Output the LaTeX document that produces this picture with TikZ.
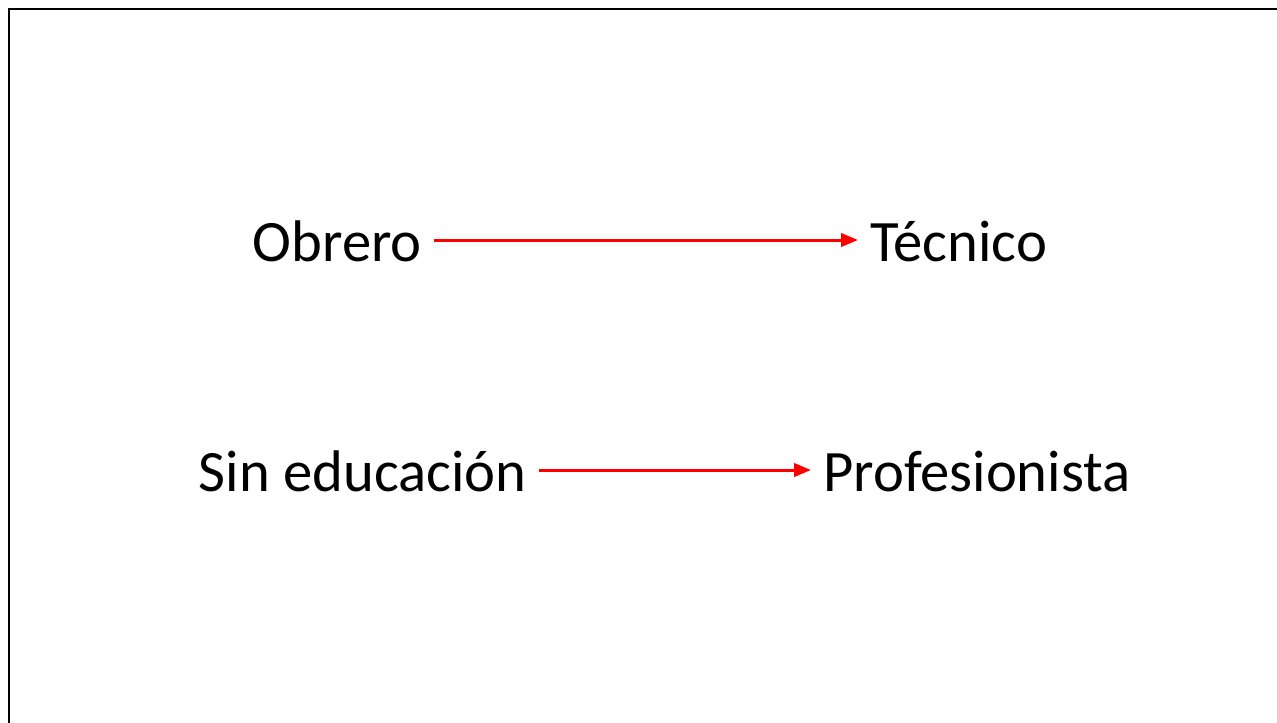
\documentclass[tikz,border=0pt]{standalone}
\usepackage{fontspec}
\setmainfont{Carlito}
\usetikzlibrary{arrows.meta}
\begin{document}
\begin{tikzpicture}[x=0.75pt,y=-0.75pt,
  lbl/.style={inner xsep=9pt,inner ysep=0pt,font=\fontsize{44}{52}\selectfont},
  arr/.style={red,line width=2.25pt,-{Triangle[length=12.75pt,width=10pt]}}]
\useasboundingbox (0,0) rectangle (1277,722);
\begin{scope}
\clip (0,0) rectangle (1277,722);
\draw[line width=2.1pt] (9,9) rectangle (1320,760);
\end{scope}
\node[lbl,anchor=base east] (a) at (434,261) {Obrero};
\node[lbl,anchor=base west] (b) at (858,261) {Técnico};
\node[lbl,anchor=base east] (c) at (539,491) {Sin educación};
\node[lbl,anchor=base west] (d) at (811,491) {Profesionista};
\draw[arr] ([yshift=15.75pt]a.base east) -- ([yshift=15.75pt]b.base west);
\draw[arr] ([yshift=15.75pt]c.base east) -- ([yshift=15.75pt]d.base west);
\end{tikzpicture}
\end{document}
